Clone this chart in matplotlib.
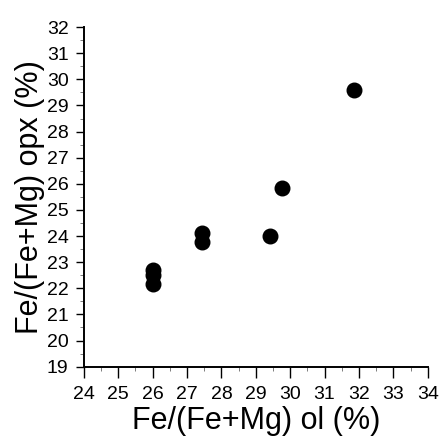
import matplotlib.pyplot as plt
from matplotlib.ticker import MultipleLocator

plt.rcParams['font.family'] = ['Liberation Sans', 'DejaVu Sans']

# Fe/(Fe+Mg) in olivine and orthopyroxene (%)
ol = [26.0, 26.0, 26.0, 27.45, 27.45, 29.4, 29.75, 31.85]
opx = [22.7, 22.5, 22.15, 24.12, 23.78, 24.0, 25.85, 29.6]

fig = plt.figure(figsize=(4.41, 4.37), dpi=100)
ax = fig.add_axes([0.19, 0.161, 0.78, 0.777])

ax.scatter(ol, opx, s=110, color='black', zorder=3)

ax.set_xlim(24, 34)
ax.set_ylim(19, 32)
ax.xaxis.set_major_locator(MultipleLocator(1))
ax.yaxis.set_major_locator(MultipleLocator(1))
ax.xaxis.set_minor_locator(MultipleLocator(0.5))
ax.yaxis.set_minor_locator(MultipleLocator(0.5))

for s in ['top', 'right']:
    ax.spines[s].set_visible(False)
ax.spines['left'].set_linewidth(1.4)
ax.spines['bottom'].set_linewidth(1.4)

ax.tick_params(which='major', direction='out', width=1, labelsize=14)
ax.tick_params(axis='x', which='major', length=8, pad=6)
ax.tick_params(axis='y', which='major', length=6, pad=5)
ax.tick_params(which='minor', direction='out', length=3, width=0.6, color='0.4')

ax.set_xlabel("Fe/(Fe+Mg) ol (%)", fontsize=22, labelpad=2)
ax.set_ylabel("Fe/(Fe+Mg) opx (%)", fontsize=22, labelpad=1)

fig.savefig("out.png", dpi=100)
